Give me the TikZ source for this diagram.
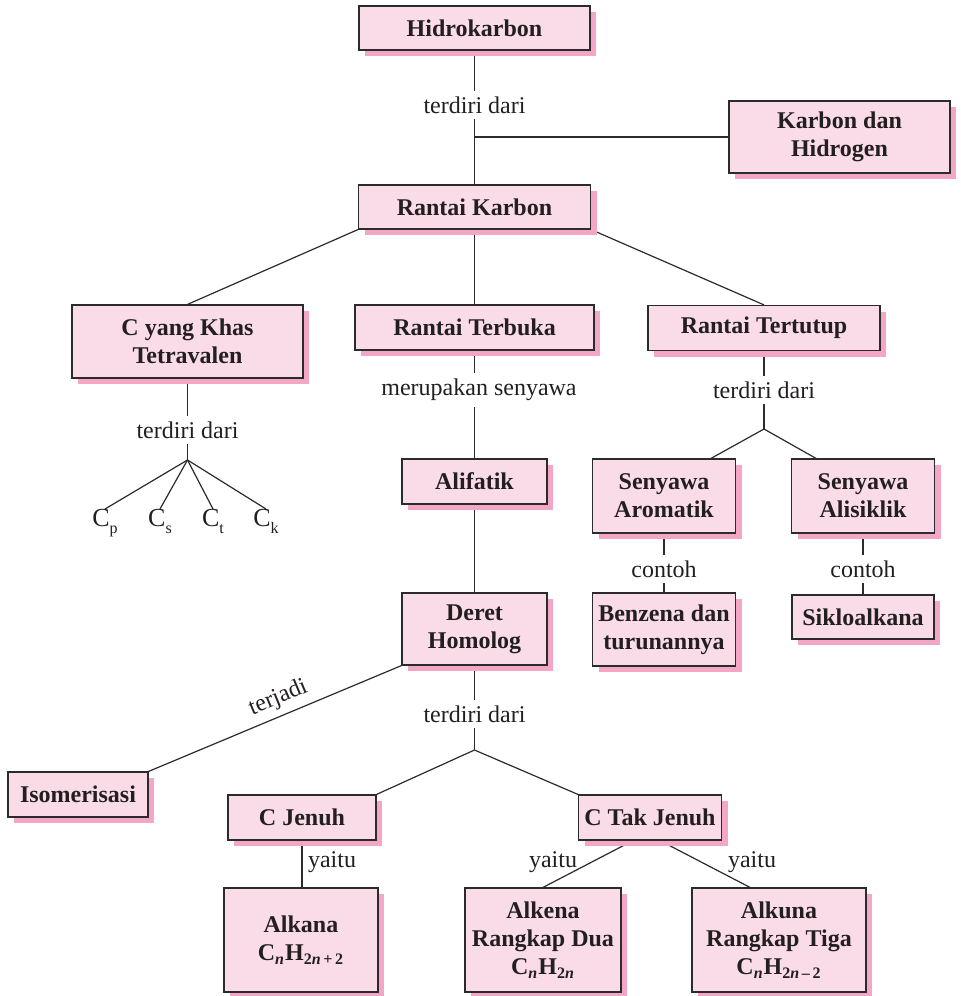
\documentclass[tikz,border=0pt]{standalone}
\usepackage{fontspec}
\setmainfont{Liberation Serif}
\usepackage{tikz}
\usetikzlibrary{calc,shadows,backgrounds}
\usepackage{xcolor}
\definecolor{hkInk}{HTML}{231F20}
\definecolor{hkLine}{HTML}{2B2B2B}
\definecolor{hkFill}{HTML}{FADCE8}
\definecolor{hkShade}{HTML}{F3A6C6}
\tikzset{
  box/.style     = {draw=hkLine, line width=0.6pt, fill=hkFill, text=hkInk,
                    align=center, inner sep=0pt,
                    font=\bfseries\fontsize{12}{14}\selectfont,
                    drop shadow={shadow xshift=3pt, shadow yshift=-3pt,
                                 fill=hkShade, opacity=1}},
  sz/.style 2 args = {minimum width=#1*0.5pt, minimum height=#2*0.5pt},
  link/.style    = {line width=0.6pt, color=hkLine},
  rel/.style     = {font=\fontsize{12}{14}\selectfont, text=hkInk, fill=white,
                    inner xsep=1pt, inner ysep=3pt},
  relside/.style = {font=\fontsize{12}{14}\selectfont, text=hkInk, inner sep=1pt},
  atom/.style    = {font=\fontsize{13}{15}\selectfont, text=hkInk, inner sep=0pt},
}
% carbon with a low subscript
\newcommand{\catom}[1]{C\raisebox{-3.5pt}{\fontsize{8}{8}\selectfont #1}}

\begin{document}
\begin{tikzpicture}[x=0.5pt, y=-0.5pt]
\useasboundingbox (0,0) rectangle (960,996);

% ======================= boxes =======================
\node[box, sz={231}{44}]  (hidro)     at (474.5,28)  {Hidrokarbon};
\node[box, sz={221}{72}]  (karbonH)   at (839.5,137) {Karbon dan\\Hidrogen};
\node[box, sz={232}{44}]  (rantaiK)   at (474.5,207) {Rantai Karbon};

\node[box, sz={231}{73}]  (tetra)     at (187.5,341.5) {C yang Khas\\Tetravalen};
\node[box, sz={239}{45}]  (terbuka)   at (474.5,327.5) {Rantai Terbuka};
\node[box, sz={232}{45}]  (tertutup)  at (764,328)   {Rantai Tertutup};

\node[box, sz={145}{45}]  (alifatik)  at (474.5,481.5) {Alifatik};
\node[box, sz={143}{74}]  (aromatik)  at (664,496)   {Senyawa\\Aromatik};
\node[box, sz={143}{74}]  (alisiklik) at (863,496)   {Senyawa\\Alisiklik};
\node[box, sz={143}{73}]  (benzena)   at (664,629.5) {Benzena dan\\turunannya};
\node[box, sz={142}{44}]  (siklo)     at (863,617)   {Sikloalkana};

\node[box, sz={145}{72}]  (deret)     at (474.5,629) {Deret\\Homolog};
\node[box, sz={140}{45}]  (isomer)    at (78,794.5)  {Isomerisasi};
\node[box, sz={148}{45}]  (jenuh)     at (302,817.5) {C Jenuh};
\node[box, sz={143}{45}]  (takjenuh)  at (650,817.5) {C Tak Jenuh};

\node[box, sz={154}{104}] (alkana)    at (301,940)
  {Alkana\\C\textsubscript{\textit{n}}H\textsubscript{2\textit{n}\,+\,2}};
\node[box, sz={156}{104}] (alkena)    at (543,940)
  {Alkena\\Rangkap Dua\\C\textsubscript{\textit{n}}H\textsubscript{2\textit{n}}};
\node[box, sz={174}{104}] (alkuna)    at (779,940)
  {Alkuna\\Rangkap Tiga\\C\textsubscript{\textit{n}}H\textsubscript{2\textit{n}\,–\,2}};

% junctions
\coordinate (j0) at (474.5,137);
\coordinate (jT) at (187.5,460);
\coordinate (jR) at (764,429);
\coordinate (jD) at (474.5,750);

% ===================== connectors =====================
\begin{scope}[on background layer]
  \draw[link] (hidro) -- (rantaiK);
  \draw[link] (j0) -- (j0 -| karbonH.west);
  \draw[link] (rantaiK.south west) -- (tetra.north);
  \draw[link] (rantaiK) -- (terbuka);
  \draw[link] (rantaiK.south east) -- (tertutup.north);

  \draw[link] (tetra) -- (jT);
  \draw[link] (terbuka) -- (alifatik);
  \draw[link] (tertutup) -- (jR);
  \draw[link] (jR) -- ($(aromatik.north)+(47,0)$);
  \draw[link] (jR) -- ($(alisiklik.north)+(-47,0)$);
  \draw[link] (aromatik) -- (benzena);
  \draw[link] (alisiklik) -- (siklo);

  \draw[link] (alifatik) -- (deret);
  \draw[link] (deret.south west) -- (isomer.north east)
    node[relside, sloped, above, pos=0.46, yshift=2pt] (lblTerjadi) {terjadi};
  \draw[link] (deret) -- (jD);
  \draw[link] (jD) -- (jenuh.north east);
  \draw[link] (jD) -- (takjenuh.north west);
  \draw[link] (jenuh.south) -- (jenuh.south |- alkana.north);
  \draw[link] ($(takjenuh.south)+(-17,0)$) -- (alkena.north);
  \draw[link] ($(takjenuh.south)+(10,0)$) -- ($(alkuna.north)+(-29,0)$);
\end{scope}

% the four kinds of C
\foreach \nm/\xx/\sb in {cp/105/p, cs/160/s, ct/213/t, ck/266/k}{
  \node[atom, anchor=north] (\nm) at (\xx,509) {\catom{\sb}};
  \draw[link] (jT) -- (\nm.north);
}

% ======================= labels =======================
\node[rel] (lblTop)    at (474.5,105) {terdiri dari};
\node[rel] (lblTetra)  at (187.5,430) {terdiri dari};
\node[rel] (lblTerbk)  at (479,390)   {merupakan senyawa};
\node[rel] (lblTertp)  at (764,390)   {terdiri dari};
\node[rel] (lblArom)   at (664,569)   {contoh};
\node[rel] (lblAlis)   at (863,569)   {contoh};
\node[rel] (lblDeret)  at (474.5,714) {terdiri dari};
\node[relside] (lblJen)   at (332,862) {yaitu};
\node[relside] (lblAlkena) at (553,862) {yaitu};
\node[relside] (lblAlkuna) at (752,862) {yaitu};

\end{tikzpicture}
\end{document}
